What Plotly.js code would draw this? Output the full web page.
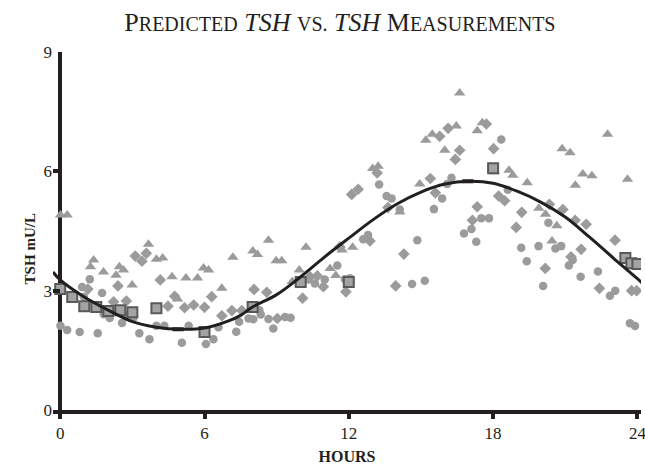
<!DOCTYPE html>
<html>
<head>
<meta charset="utf-8">
<script src="https://cdn.plot.ly/plotly-3.0.1.min.js"></script>
<style>html,body{margin:0;padding:0;background:#fff;}#chart{width:645px;height:465px;}</style>
</head>
<body>
<div id="chart"></div>
<script>
// Triangle series (hours, TSH mU/L)
var triHours = [0.01,0.29,1.26,1.39,1.8,2.32,2.46,2.63,2.99,3.67,4.0,4.26,4.65,4.88,5.23,5.71,5.96,6.17,6.72,7.18,8.01,8.2,8.66,8.98,9.21,9.65,9.94,10.22,11.22,11.46,11.72,12.16,12.99,13.22,14.12,14.95,15.2,15.47,15.99,16.47,16.61,17.34,17.55,18.06,18.66,18.82,19.42,19.9,20.18,20.45,20.65,20.87,21.2,21.42,21.73,22.11,22.76,23.59];
var triValues = [4.9,4.9,3.6,3.77,3.47,3.39,3.6,3.52,3.14,4.17,3.79,3.82,3.35,2.79,3.32,3.32,3.57,3.52,3.06,3.84,4.0,3.91,4.27,3.75,3.75,3.23,3.52,4.09,3.56,3.38,4.02,4.09,6.07,6.13,4.98,5.68,6.78,6.93,6.53,7.14,7.97,7.02,7.22,5.99,6.03,5.9,5.71,5.07,4.92,4.25,4.63,6.57,6.47,5.65,5.93,5.89,6.93,5.8];

// Diamond series
var diaHours = [1.15,2.22,2.4,2.75,3.12,3.4,3.58,4.16,4.48,4.76,5.17,5.55,6.0,6.3,6.72,7.14,7.55,8.06,8.59,9.03,10.08,10.39,10.69,10.94,11.63,11.88,12.12,12.39,12.88,13.18,13.63,13.95,14.29,15.39,15.6,15.78,16.13,16.43,16.61,17.14,17.34,17.72,18.02,18.23,18.48,18.96,19.19,20.17,20.34,20.9,21.24,21.41,21.66,21.87,22.42,23.07,23.76,23.97];
var diaValues = [3.04,2.72,3.12,2.74,3.87,3.74,3.94,3.27,2.61,2.86,2.57,2.64,2.58,2.85,2.37,2.5,2.5,3.03,2.96,2.3,2.81,3.35,3.37,3.1,4.1,2.97,5.42,5.55,4.25,5.96,5.09,3.12,3.92,5.82,5.46,6.88,7.08,6.3,6.53,4.77,5.11,7.19,6.57,5.38,5.26,4.59,4.97,3.56,5.17,5.04,3.85,4.77,4.04,4.67,3.06,4.27,3.0,3.0];

// Circle series
var cirHours = [0.0,0.01,0.29,0.81,0.91,0.98,1.23,1.56,1.74,1.81,2.06,2.25,2.57,2.79,3.04,3.29,3.71,4.0,4.33,4.0,5.06,5.34,5.95,6.06,6.37,6.58,7.32,7.44,7.83,8.03,8.28,8.34,8.66,8.86,9.35,9.58,10.32,10.59,11.0,11.52,11.84,12.05,12.6,12.8,13.26,13.57,13.78,14.12,14.63,14.85,15.16,15.54,15.88,16.09,16.27,16.79,17.1,17.3,17.51,17.83,18.34,18.61,19.17,19.4,19.89,20.08,20.3,20.59,20.83,21.15,21.31,21.64,22.36,22.86,23.08,23.69,23.9];
var cirValues = [3.0,2.12,2.01,1.96,3.09,2.85,3.29,1.93,2.94,2.41,2.31,2.53,2.19,2.39,2.31,1.93,1.78,2.12,2.12,2.52,1.69,2.12,1.93,1.66,1.78,2.08,1.97,2.22,2.3,2.28,2.51,2.4,2.29,2.05,2.34,2.32,3.28,3.18,3.28,3.63,3.29,3.31,4.29,4.4,5.67,5.38,5.32,5.04,3.17,4.27,3.25,5.05,5.32,5.68,5.84,4.44,4.55,4.23,4.82,4.82,6.8,5.54,4.08,3.74,4.12,3.12,4.71,4.06,4.12,3.63,3.77,3.35,3.48,2.87,3.0,2.18,2.11];

// Square series (mean measurements)
var sqHours = [0,0.5,1,1.5,2,2.5,3,4,6,8,10,12,18,23.5,23.75,24];
var sqValues = [3.04,2.84,2.61,2.59,2.49,2.51,2.46,2.56,1.96,2.59,3.22,3.22,6.08,3.82,3.69,3.67];

// Predicted curve
var curveHours = [-0.3,0,1,2,3,4,5,6,7,7.5,8,9,10,11,12,13,14,15,16,17,18,19,20,21,22,23,24,24.2];
var curveValues = [3.47,3.27,2.84,2.51,2.22,2.08,2.03,2.06,2.24,2.38,2.59,2.9,3.35,3.85,4.32,4.78,5.18,5.48,5.68,5.75,5.7,5.5,5.22,4.85,4.35,3.82,3.3,3.19];

// Extremes marked on the curve
var extHours = [4.9,16.95];
var extValues = [2.03,5.75];

var xTicks = [0,6,12,18,24];
var yTicks = [0,3,6,9];

var gray = '#9b9b9b';
var dark = '#231f20';
var serif = 'Liberation Serif, Times New Roman, serif';

var traces = [
  {x: cirHours, y: cirValues, type: 'scatter', mode: 'markers', hoverinfo: 'none',
   marker: {symbol: 'circle', size: 8.5, color: gray, line: {width: 0}}},
  {x: diaHours, y: diaValues, type: 'scatter', mode: 'markers', hoverinfo: 'none',
   marker: {symbol: 'diamond', size: 9, color: gray, line: {width: 0}}},
  {x: triHours, y: triValues, type: 'scatter', mode: 'markers', hoverinfo: 'none',
   marker: {symbol: 'triangle-up', size: 10, color: gray, line: {width: 0}}},
  {x: sqHours, y: sqValues, type: 'scatter', mode: 'markers', hoverinfo: 'none',
   marker: {symbol: 'square', size: 10, color: '#a3a3a3', line: {width: 2, color: '#58595b'}}},
  {x: curveHours, y: curveValues, type: 'scatter', mode: 'lines', hoverinfo: 'none',
   line: {color: dark, width: 3, shape: 'spline', smoothing: 1}},
  {x: extHours, y: extValues, type: 'scatter', mode: 'markers', hoverinfo: 'none',
   marker: {symbol: 'line-ew', size: 8, line: {width: 4, color: dark}}}
];

var sc = 'font-size:20px';
var layout = {
  width: 645, height: 465,
  margin: {l: 52.5, r: 3.5, t: 52, b: 55},
  paper_bgcolor: '#ffffff', plot_bgcolor: '#ffffff',
  showlegend: false,
  font: {family: serif, color: dark},
  title: {
    text: 'P<span style="' + sc + '">REDICTED</span> <i>TSH</i> <span style="' + sc + '">VS.</span> <i>TSH</i> M<span style="' + sc + '">EASUREMENTS</span>',
    font: {family: serif, size: 26, color: dark},
    x: 0.527, xanchor: 'center', xref: 'container',
    y: 0.953, yanchor: 'middle', yref: 'container'
  },
  xaxis: {
    range: [-0.3, 24.15], tickvals: xTicks, ticktext: xTicks.map(String),
    showgrid: false, showline: true, linecolor: dark, linewidth: 4,
    zeroline: true, zerolinecolor: dark, zerolinewidth: 4,
    ticks: 'outside', ticklen: 5, tickwidth: 4, tickcolor: dark,
    ticklabeloverflow: 'allow',
    tickfont: {family: serif, size: 17, color: dark},
    title: {text: '<b>HOURS</b>', font: {family: serif, size: 16, color: dark}, standoff: 12}
  },
  yaxis: {
    range: [0, 9], tickvals: yTicks, ticktext: yTicks.map(String),
    showgrid: false, showline: false, zeroline: false,
    ticks: 'inside', ticklen: 7, tickwidth: 4, tickcolor: dark,
    tickfont: {family: serif, size: 17, color: dark}
  },
  annotations: [{
    text: '<b>TSH mU/L</b>', textangle: -90, showarrow: false,
    xref: 'paper', yref: 'paper', x: -0.04, y: 0.45, xanchor: 'center', yanchor: 'middle',
    font: {family: serif, size: 15, color: dark}
  }]
};

Plotly.newPlot('chart', traces, layout, {displayModeBar: false, staticPlot: true});
</script>
</body>
</html>
